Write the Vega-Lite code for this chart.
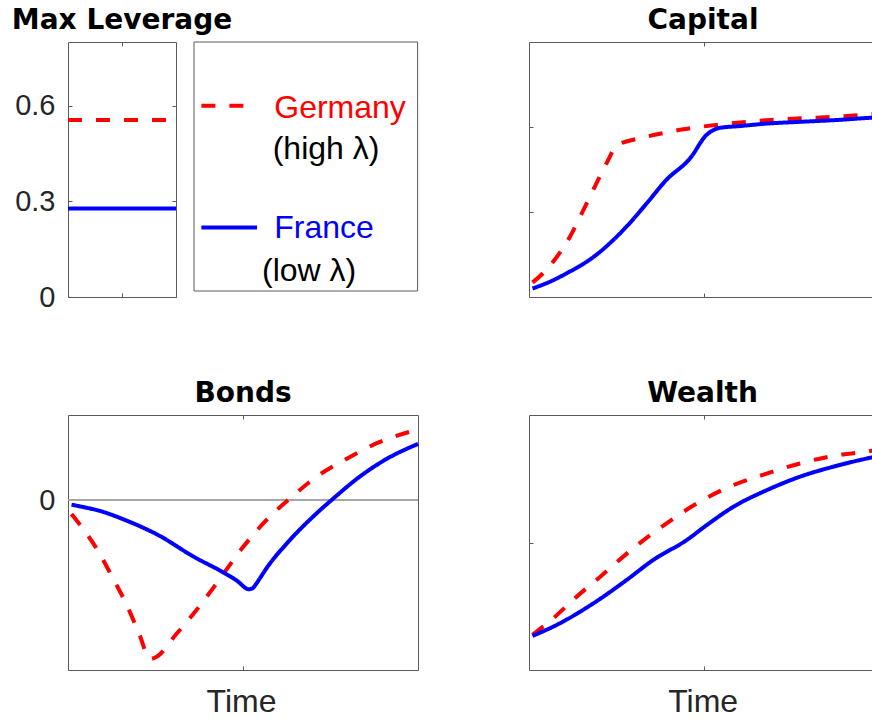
{
  "$schema": "https://vega.github.io/schema/vega-lite/v6.json",
  "padding": {"left": 11, "top": 7, "right": 0, "bottom": 0},
  "config": {
    "view": {"stroke": null},
    "axis": {"grid": false, "domainColor": "#5a5a5a", "domainWidth": 1, "tickColor": "#5a5a5a", "tickWidth": 1, "tickSize": -4,
      "labelFont": "Liberation Sans", "labelFontSize": 29, "labelColor": "#262626", "labelPadding": 17,
      "titleFont": "Liberation Sans", "titleFontSize": 32, "titleFontWeight": "normal", "titleColor": "#262626"},
    "title": {"font": "DejaVu Sans", "fontSize": 28, "fontWeight": "bold", "color": "#000000", "baseline": "alphabetic", "offset": 6.4, "frame": "group"}
  },
  "datasets": {
    "curves": [
      {"panel": "lev", "country": "Germany", "t": 0, "v": 0.555},
      {"panel": "lev", "country": "Germany", "t": 100, "v": 0.555},
      {"panel": "lev", "country": "France", "t": 0, "v": 0.278},
      {"panel": "lev", "country": "France", "t": 100, "v": 0.278},

      {"panel": "cap", "country": "Germany", "t": 1, "v": 0.17},
      {"panel": "cap", "country": "Germany", "t": 4, "v": 0.28},
      {"panel": "cap", "country": "Germany", "t": 7, "v": 0.42},
      {"panel": "cap", "country": "Germany", "t": 11.7, "v": 0.71},
      {"panel": "cap", "country": "Germany", "t": 15.5, "v": 1.02},
      {"panel": "cap", "country": "Germany", "t": 19.3, "v": 1.34},
      {"panel": "cap", "country": "Germany", "t": 23.1, "v": 1.65},
      {"panel": "cap", "country": "Germany", "t": 24.6, "v": 1.77},
      {"panel": "cap", "country": "Germany", "t": 27, "v": 1.82},
      {"panel": "cap", "country": "Germany", "t": 29.8, "v": 1.85},
      {"panel": "cap", "country": "Germany", "t": 35.6, "v": 1.905},
      {"panel": "cap", "country": "Germany", "t": 43.6, "v": 1.97},
      {"panel": "cap", "country": "Germany", "t": 57.3, "v": 2.04},
      {"panel": "cap", "country": "Germany", "t": 67.9, "v": 2.08},
      {"panel": "cap", "country": "Germany", "t": 87, "v": 2.12},
      {"panel": "cap", "country": "Germany", "t": 98, "v": 2.15},
      {"panel": "cap", "country": "Germany", "t": 100, "v": 2.155},
      {"panel": "cap", "country": "France", "t": 1, "v": 0.10},
      {"panel": "cap", "country": "France", "t": 6, "v": 0.18},
      {"panel": "cap", "country": "France", "t": 10.8, "v": 0.28},
      {"panel": "cap", "country": "France", "t": 18.4, "v": 0.47},
      {"panel": "cap", "country": "France", "t": 27.9, "v": 0.83},
      {"panel": "cap", "country": "France", "t": 33.6, "v": 1.10},
      {"panel": "cap", "country": "France", "t": 39.3, "v": 1.38},
      {"panel": "cap", "country": "France", "t": 46, "v": 1.63},
      {"panel": "cap", "country": "France", "t": 50.8, "v": 1.91},
      {"panel": "cap", "country": "France", "t": 52.5, "v": 1.96},
      {"panel": "cap", "country": "France", "t": 54.5, "v": 1.99},
      {"panel": "cap", "country": "France", "t": 60, "v": 2.01},
      {"panel": "cap", "country": "France", "t": 67.9, "v": 2.04},
      {"panel": "cap", "country": "France", "t": 77, "v": 2.06},
      {"panel": "cap", "country": "France", "t": 87, "v": 2.08},
      {"panel": "cap", "country": "France", "t": 98, "v": 2.11},
      {"panel": "cap", "country": "France", "t": 100, "v": 2.115},

      {"panel": "bonds", "country": "Germany", "t": 1, "v": -0.165},
      {"panel": "bonds", "country": "Germany", "t": 3.2, "v": -0.28},
      {"panel": "bonds", "country": "Germany", "t": 8, "v": -0.56},
      {"panel": "bonds", "country": "Germany", "t": 12.7, "v": -0.91},
      {"panel": "bonds", "country": "Germany", "t": 16.6, "v": -1.22},
      {"panel": "bonds", "country": "Germany", "t": 20.4, "v": -1.58},
      {"panel": "bonds", "country": "Germany", "t": 23.4, "v": -1.87},
      {"panel": "bonds", "country": "Germany", "t": 25.1, "v": -1.85},
      {"panel": "bonds", "country": "Germany", "t": 30.9, "v": -1.58},
      {"panel": "bonds", "country": "Germany", "t": 36.6, "v": -1.30},
      {"panel": "bonds", "country": "Germany", "t": 42.3, "v": -0.99},
      {"panel": "bonds", "country": "Germany", "t": 49.9, "v": -0.56},
      {"panel": "bonds", "country": "Germany", "t": 56.6, "v": -0.24},
      {"panel": "bonds", "country": "Germany", "t": 63.2, "v": 0.01},
      {"panel": "bonds", "country": "Germany", "t": 70.9, "v": 0.27},
      {"panel": "bonds", "country": "Germany", "t": 79.4, "v": 0.48},
      {"panel": "bonds", "country": "Germany", "t": 88.9, "v": 0.68},
      {"panel": "bonds", "country": "Germany", "t": 100, "v": 0.83},
      {"panel": "bonds", "country": "France", "t": 1, "v": -0.055},
      {"panel": "bonds", "country": "France", "t": 4, "v": -0.08},
      {"panel": "bonds", "country": "France", "t": 8.9, "v": -0.126},
      {"panel": "bonds", "country": "France", "t": 16.6, "v": -0.24},
      {"panel": "bonds", "country": "France", "t": 26.1, "v": -0.42},
      {"panel": "bonds", "country": "France", "t": 35.6, "v": -0.66},
      {"panel": "bonds", "country": "France", "t": 45.1, "v": -0.87},
      {"panel": "bonds", "country": "France", "t": 48.9, "v": -0.97},
      {"panel": "bonds", "country": "France", "t": 50.5, "v": -1.03},
      {"panel": "bonds", "country": "France", "t": 51.5, "v": -1.05},
      {"panel": "bonds", "country": "France", "t": 52.7, "v": -1.04},
      {"panel": "bonds", "country": "France", "t": 53.7, "v": -0.99},
      {"panel": "bonds", "country": "France", "t": 55, "v": -0.91},
      {"panel": "bonds", "country": "France", "t": 56.6, "v": -0.81},
      {"panel": "bonds", "country": "France", "t": 63.2, "v": -0.48},
      {"panel": "bonds", "country": "France", "t": 69.9, "v": -0.20},
      {"panel": "bonds", "country": "France", "t": 75.6, "v": 0.01},
      {"panel": "bonds", "country": "France", "t": 83.2, "v": 0.27},
      {"panel": "bonds", "country": "France", "t": 90.9, "v": 0.48},
      {"panel": "bonds", "country": "France", "t": 100, "v": 0.66},

      {"panel": "wealth", "country": "Germany", "t": 1, "v": 0.275},
      {"panel": "wealth", "country": "Germany", "t": 6.9, "v": 0.405},
      {"panel": "wealth", "country": "Germany", "t": 13.6, "v": 0.575},
      {"panel": "wealth", "country": "Germany", "t": 20.3, "v": 0.73},
      {"panel": "wealth", "country": "Germany", "t": 29.8, "v": 0.955},
      {"panel": "wealth", "country": "Germany", "t": 39.3, "v": 1.15},
      {"panel": "wealth", "country": "Germany", "t": 48.8, "v": 1.32},
      {"panel": "wealth", "country": "Germany", "t": 58.4, "v": 1.45},
      {"panel": "wealth", "country": "Germany", "t": 67.9, "v": 1.54},
      {"panel": "wealth", "country": "Germany", "t": 77.4, "v": 1.62},
      {"panel": "wealth", "country": "Germany", "t": 87, "v": 1.68},
      {"panel": "wealth", "country": "Germany", "t": 98, "v": 1.72},
      {"panel": "wealth", "country": "Germany", "t": 100, "v": 1.73},
      {"panel": "wealth", "country": "France", "t": 1, "v": 0.267},
      {"panel": "wealth", "country": "France", "t": 8.8, "v": 0.366},
      {"panel": "wealth", "country": "France", "t": 18.4, "v": 0.523},
      {"panel": "wealth", "country": "France", "t": 27.9, "v": 0.706},
      {"panel": "wealth", "country": "France", "t": 35.5, "v": 0.863},
      {"panel": "wealth", "country": "France", "t": 45.1, "v": 1.02},
      {"panel": "wealth", "country": "France", "t": 50.8, "v": 1.137},
      {"panel": "wealth", "country": "France", "t": 58.4, "v": 1.28},
      {"panel": "wealth", "country": "France", "t": 67.9, "v": 1.41},
      {"panel": "wealth", "country": "France", "t": 77.4, "v": 1.516},
      {"panel": "wealth", "country": "France", "t": 87, "v": 1.595},
      {"panel": "wealth", "country": "France", "t": 98, "v": 1.668},
      {"panel": "wealth", "country": "France", "t": 100, "v": 1.68}
    ],
    "legend": [
      {"country": "Germany", "sub": "(high λ)"},
      {"country": "France", "sub": "(low λ)"}
    ]
  },
  "vconcat": [
    {
      "hconcat": [
        {
          "width": 108, "height": 255,
          "title": {"text": "Max Leverage"},
          "data": {"name": "curves"},
          "transform": [{"filter": "datum.panel === 'lev'"}],
          "layer": [
            {
              "mark": {"type": "line", "strokeWidth": 4},
              "encoding": {
                "x": {"field": "t", "type": "quantitative", "scale": {"domain": [0, 100], "nice": false}, "axis": {"orient": "bottom", "values": [50], "labels": false, "title": null}},
                "y": {"field": "v", "type": "quantitative", "scale": {"domain": [0, 0.8], "nice": false}, "axis": {"orient": "left", "values": [0, 0.3, 0.6], "labelExpr": "datum.value === 0 ? '0' : format(datum.value, '.1f')", "title": null}},
                "color": {"field": "country", "type": "nominal", "scale": {"domain": ["Germany", "France"], "range": ["#ff0000", "#0000ff"]}, "legend": null},
                "strokeDash": {"field": "country", "type": "nominal", "scale": {"domain": ["Germany", "France"], "range": [[14, 14], [1, 0]]}, "legend": null}
              }
            },
            {
              "mark": {"type": "line", "opacity": 0},
              "encoding": {
                "x": {"field": "t", "type": "quantitative", "axis": {"orient": "top", "values": [50], "labels": false, "title": null}},
                "y": {"field": "v", "type": "quantitative", "axis": {"orient": "right", "values": [0, 0.3, 0.6], "labels": false, "title": null}},
                "detail": {"field": "country", "type": "nominal"}
              }
            }
          ],
          "resolve": {"axis": {"x": "independent", "y": "independent"}}
        },
        {
          "width": 317, "height": 249,
          "data": {"name": "legend"},
          "layer": [
            {
              "transform": [{"filter": "datum.country === 'Germany'"}],
              "mark": {"type": "rect", "fillOpacity": 0, "stroke": "#5a5a5a", "strokeWidth": 1},
              "encoding": {
                "x": {"datum": 0, "type": "quantitative", "scale": {"domain": [0, 1.4177], "nice": false, "zero": false}, "axis": null},
                "x2": {"datum": 1},
                "y": {"datum": 0, "type": "quantitative", "scale": {"domain": [0, 1], "nice": false, "zero": false}, "axis": null},
                "y2": {"datum": 1}
              }
            },
            {
              "transform": [{"filter": "datum.country === 'Germany'"}],
              "mark": {"type": "rule", "strokeWidth": 4},
              "encoding": {
                "x": {"datum": 0.033, "type": "quantitative"},
                "x2": {"datum": 0.282},
                "y": {"datum": 0.744, "type": "quantitative"},
                "color": {"field": "country", "type": "nominal", "scale": {"domain": ["Germany", "France"], "range": ["#ff0000", "#0000ff"]}, "legend": null},
                "strokeDash": {"field": "country", "type": "nominal", "scale": {"domain": ["Germany", "France"], "range": [[14, 14], [1, 0]]}, "legend": null}
              }
            },
            {
              "transform": [{"filter": "datum.country === 'France'"}],
              "mark": {"type": "rule", "strokeWidth": 4},
              "encoding": {
                "x": {"datum": 0.033, "type": "quantitative"},
                "x2": {"datum": 0.282},
                "y": {"datum": 0.255, "type": "quantitative"},
                "color": {"field": "country", "type": "nominal", "legend": null},
                "strokeDash": {"field": "country", "type": "nominal", "legend": null}
              }
            },
            {
              "transform": [{"filter": "datum.country === 'Germany'"}],
              "mark": {"type": "text", "align": "left", "baseline": "alphabetic", "font": "Liberation Sans", "fontSize": 32},
              "encoding": {
                "x": {"datum": 0.359, "type": "quantitative"},
                "y": {"datum": 0.696, "type": "quantitative"},
                "text": {"field": "country"},
                "color": {"field": "country", "type": "nominal", "legend": null}
              }
            },
            {
              "transform": [{"filter": "datum.country === 'Germany'"}],
              "mark": {"type": "text", "align": "left", "baseline": "alphabetic", "font": "Liberation Sans", "fontSize": 32, "color": "#000000"},
              "encoding": {
                "x": {"datum": 0.352, "type": "quantitative"},
                "y": {"datum": 0.529, "type": "quantitative"},
                "text": {"field": "sub"}
              }
            },
            {
              "transform": [{"filter": "datum.country === 'France'"}],
              "mark": {"type": "text", "align": "left", "baseline": "alphabetic", "font": "Liberation Sans", "fontSize": 32},
              "encoding": {
                "x": {"datum": 0.359, "type": "quantitative"},
                "y": {"datum": 0.211, "type": "quantitative"},
                "text": {"field": "country"},
                "color": {"field": "country", "type": "nominal", "legend": null}
              }
            },
            {
              "transform": [{"filter": "datum.country === 'France'"}],
              "mark": {"type": "text", "align": "left", "baseline": "alphabetic", "font": "Liberation Sans", "fontSize": 32, "color": "#000000"},
              "encoding": {
                "x": {"datum": 0.304, "type": "quantitative"},
                "y": {"datum": 0.039, "type": "quantitative"},
                "text": {"field": "sub"}
              }
            }
          ]
        },
        {
          "width": 343, "height": 255,
          "title": {"text": "Capital", "dx": 2.5},
          "data": {"name": "curves"},
          "transform": [{"filter": "datum.panel === 'cap'"}],
          "layer": [
            {
              "mark": {"type": "line", "strokeWidth": 4, "clip": true, "interpolate": "monotone"},
              "encoding": {
                "x": {"field": "t", "type": "quantitative", "scale": {"domain": [0, 98], "nice": false}, "axis": {"orient": "bottom", "values": [50], "labels": false, "title": null}},
                "y": {"field": "v", "type": "quantitative", "scale": {"domain": [0, 3], "nice": false}, "axis": {"orient": "left", "values": [1, 2], "labels": false, "title": null}},
                "color": {"field": "country", "type": "nominal", "legend": null},
                "strokeDash": {"field": "country", "type": "nominal", "legend": null}
              }
            },
            {
              "mark": {"type": "line", "opacity": 0, "clip": true},
              "encoding": {
                "x": {"field": "t", "type": "quantitative", "axis": {"orient": "top", "values": [50], "labels": false, "title": null}},
                "y": {"field": "v", "type": "quantitative", "axis": null},
                "detail": {"field": "country", "type": "nominal"}
              }
            }
          ],
          "resolve": {"axis": {"x": "independent", "y": "independent"}}
        }
      ],
      "spacing": 18,
      "bounds": "flush"
    },
    {
      "hconcat": [
        {
          "width": 350, "height": 255,
          "title": {"text": "Bonds"},
          "data": {"name": "curves"},
          "transform": [{"filter": "datum.panel === 'bonds'"}],
          "layer": [
            {
              "mark": {"type": "rule", "color": "#a6a6a6", "strokeWidth": 2},
              "encoding": {
                "y": {"datum": 0, "type": "quantitative", "scale": {"domain": [-2, 1], "nice": false, "zero": false}, "axis": null}
              }
            },
            {
              "mark": {"type": "line", "strokeWidth": 4, "interpolate": "monotone"},
              "encoding": {
                "x": {"field": "t", "type": "quantitative", "scale": {"domain": [0, 100], "nice": false}, "axis": {"orient": "bottom", "values": [50], "labels": false, "title": "Time", "titleX": 173, "titleY": 41.7, "titleBaseline": "alphabetic"}},
                "y": {"field": "v", "type": "quantitative", "axis": {"orient": "left", "values": [0], "labelExpr": "'0'", "title": null}},
                "color": {"field": "country", "type": "nominal", "legend": null},
                "strokeDash": {"field": "country", "type": "nominal", "legend": null}
              }
            },
            {
              "mark": {"type": "line", "opacity": 0},
              "encoding": {
                "x": {"field": "t", "type": "quantitative", "axis": {"orient": "top", "values": [50], "labels": false, "title": null}},
                "y": {"field": "v", "type": "quantitative", "axis": {"orient": "right", "values": [0], "labels": false, "title": null}},
                "detail": {"field": "country", "type": "nominal"}
              }
            }
          ],
          "resolve": {"axis": {"x": "independent", "y": "independent"}}
        },
        {
          "width": 343, "height": 255,
          "title": {"text": "Wealth", "dx": 2},
          "data": {"name": "curves"},
          "transform": [{"filter": "datum.panel === 'wealth'"}],
          "layer": [
            {
              "mark": {"type": "line", "strokeWidth": 4, "clip": true, "interpolate": "monotone"},
              "encoding": {
                "x": {"field": "t", "type": "quantitative", "scale": {"domain": [0, 98], "nice": false}, "axis": {"orient": "bottom", "values": [50], "labels": false, "title": "Time", "titleX": 173.7, "titleY": 41.7, "titleBaseline": "alphabetic"}},
                "y": {"field": "v", "type": "quantitative", "scale": {"domain": [0, 2], "nice": false}, "axis": {"orient": "left", "values": [1], "labels": false, "title": null}},
                "color": {"field": "country", "type": "nominal", "legend": null},
                "strokeDash": {"field": "country", "type": "nominal", "legend": null}
              }
            },
            {
              "mark": {"type": "line", "opacity": 0, "clip": true},
              "encoding": {
                "x": {"field": "t", "type": "quantitative", "axis": {"orient": "top", "values": [50], "labels": false, "title": null}},
                "y": {"field": "v", "type": "quantitative", "axis": null},
                "detail": {"field": "country", "type": "nominal"}
              }
            }
          ],
          "resolve": {"axis": {"x": "independent", "y": "independent"}}
        }
      ],
      "spacing": 111,
      "bounds": "flush"
    }
  ],
  "spacing": 68
}
